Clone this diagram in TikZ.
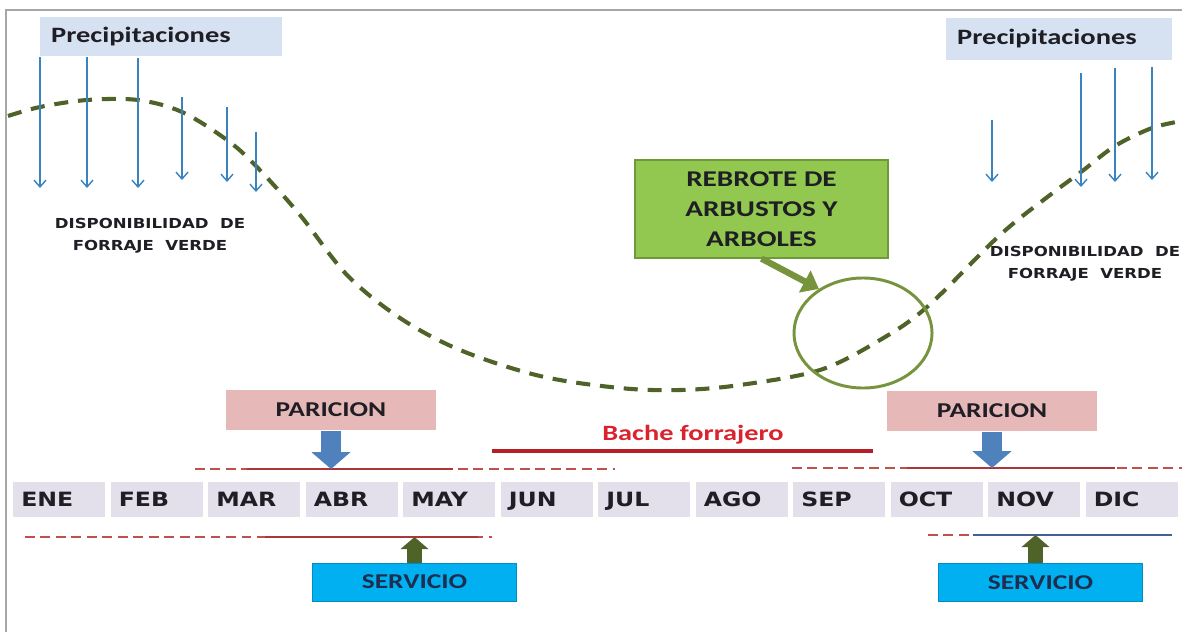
\documentclass[tikz,border=0pt]{standalone}
\usepackage{fontspec}
\setmainfont{Carlito}[FakeStretch=1.3]
\newfontfamily\tahfont{DejaVu Sans}[FakeStretch=1.2]
\usepackage{tikz}
\usetikzlibrary{arrows.meta,positioning,shapes.geometric,calc}
\definecolor{precbg}{HTML}{D6E1F1}
\definecolor{txtdark}{HTML}{1E1E24}
\definecolor{rainblue}{HTML}{3A83C1}
\definecolor{curvegreen}{HTML}{4F6228}
\definecolor{boxgreen}{HTML}{92C850}
\definecolor{boxgreenline}{HTML}{6E9A3A}
\definecolor{olive}{HTML}{77933C}
\definecolor{paribg}{HTML}{E6B9B8}
\definecolor{parblue}{HTML}{4F81BD}
\definecolor{monthbg}{HTML}{E3E0EC}
\definecolor{bachered}{HTML}{D9232E}
\definecolor{dashred}{HTML}{C0504D}
\definecolor{spanred}{HTML}{A8383A}
\definecolor{spanblue}{HTML}{44609A}
\definecolor{servbg}{HTML}{00B0F0}
\definecolor{servtxt}{HTML}{1F2D4F}
\definecolor{framegray}{HTML}{A6A6A6}
\tikzset{
  precbox/.style={fill=precbg, text width=#1, inner xsep=0.28cm, align=left,
                  minimum height=0.95cm, text=txtdark,
                  font=\bfseries\fontsize{15.6}{17}\selectfont},
  rain/.style={draw=rainblue, line width=1pt,
               -{Straight Barb[length=1.7mm,width=3mm]}},
  forage/.style={draw=curvegreen, line width=2.9pt, dash pattern=on 10pt off 7pt},
  dispo/.style={align=center, text=txtdark,
                font=\tahfont\bfseries\fontsize{9.8}{15.6}\selectfont},
  rebrote/.style={fill=boxgreen, draw=boxgreenline, line width=0.8pt,
                  minimum width=6.325cm, minimum height=2.45cm, align=center,
                  text=txtdark, font=\bfseries\fontsize{16}{21.3}\selectfont},
  regrow/.style={ellipse, draw=olive, line width=2.1pt, minimum width=3.45cm,
                 minimum height=2.75cm},
  pointer/.style={draw=olive, line width=0.16cm,
                  -{Triangle[width=0.6cm,length=0.4cm]}},
  paribox/.style={fill=paribg, minimum width=5.25cm, minimum height=1.02cm,
                  text=txtdark, font=\bfseries\fontsize{15}{17}\selectfont},
  blockdown/.style={draw=parblue, line width=0.5cm,
                    -{Triangle[width=0.95cm,length=0.42cm]}},
  blockup/.style={draw=curvegreen, line width=0.375cm,
                  -{Triangle[width=0.68cm,length=0.3cm]}},
  servbox/.style={fill=servbg, draw=servbg!80!black, line width=0.3pt,
                  minimum width=5.1cm, minimum height=0.94cm, text=servtxt,
                  font=\bfseries\fontsize{15}{17}\selectfont},
  month/.style={fill=monthbg, anchor=west, minimum height=0.875cm,
                text height=10.4pt, text depth=0pt,
                text width=1.9cm, inner xsep=0.2cm, align=left, text=txtdark,
                font=\tahfont\bfseries\fontsize{14}{16}\selectfont},
  timeline/.style={draw=dashred, line width=1pt, dash pattern=on 7pt off 4pt},
  span/.style={draw=#1, line width=1.1pt},
  gap/.style={draw=bachered!85!black, line width=2.2pt},
}
\begin{document}
\begin{tikzpicture}[x=0.025cm, y=-0.025cm]
\useasboundingbox (0,0) rectangle (1182,632);
\fill[white] (0,0) rectangle (1182,632);
\draw[framegray, line width=1pt] (1182,10) -- (6,10) -- (6,632);

\node[precbox=5.49cm] (precL) at (161,36.5) {Precipitaciones};
\node[precbox=5.09cm, minimum height=1.05cm] (precR) at (1059,39) {Precipitaciones};

\draw[forage] plot[smooth, tension=0.55] coordinates {
  (8,116) (40,107) (87,100) (138,100) (182,112) (227,140) (256,166)
  (300,215) (347,275) (400,318) (460,350) (540,376) (620,388) (680,390)
  (740,385) (820,370) (880,340) (927,307) (1000,235) (1050,195)
  (1081,172) (1115,146) (1152,128) (1182,121)};

\foreach \x/\a/\b in {40/57/188, 87/57/188, 138/58/188, 182/97/180,
                      227/107/182, 256/132/192, 992/120/182, 1081/73/187,
                      1115/68/182, 1152/67/180}
  \draw[rain] (\x,\a) -- (\x,\b);

\node[dispo] (dispoL) at (150,236) {DISPONIBILIDAD\ \ DE\\FORRAJE\ \ VERDE};
\node[dispo] (dispoR) at (1085,264) {DISPONIBILIDAD\ \ DE\\FORRAJE\ \ VERDE};

\node[rebrote] (rebrote) at (761.5,209) {REBROTE DE\\ARBUSTOS Y\\ARBOLES};
\node[regrow] (circ) at (863,333) {};
\draw[pointer] (rebrote.south) -- (circ.135);

\node[paribox] (pariL) at (331,410) {PARICION};
\node[paribox] (pariR) at (992,411) {PARICION};

\node[text=bachered, font=\bfseries\fontsize{15.5}{17}\selectfont]
  (bache) at (693,435) {Bache forrajero};
\coordinate (bacheA) at (492,451);
\coordinate (bacheB) at (873,451);
\draw[gap] (bacheA) -- (bacheB);

\coordinate (topLa) at (195,469);  \coordinate (topLb) at (615,469);
\coordinate (topLs) at (247,469);  \coordinate (topLt) at (453,469);
\coordinate (topRa) at (792,468);  \coordinate (topRb) at (1182,468);
\coordinate (topRs) at (907,468);  \coordinate (topRt) at (1115,468);
\coordinate (botLa) at (25,537);   \coordinate (botLb) at (492,537);
\coordinate (botLs) at (265,537);  \coordinate (botLt) at (478,537);
\coordinate (botRa) at (928,535);  \coordinate (botRb) at (1172,535);
\coordinate (botRs) at (973,535);  \coordinate (botRt) at (1172,535);
\draw[timeline] (topLa) -- (topLb);
\draw[timeline] (topRa) -- (topRb);
\draw[timeline] (botLa) -- (botLb);
\draw[timeline] (botRa) -- (botRb);
\draw[span=spanred] (topLs) -- (topLt);
\draw[span=spanred] (topRs) -- (topRt);
\draw[span=spanred] (botLs) -- (botLt);
\draw[span=spanblue] (botRs) -- (botRt);

\draw[blockdown] (pariL.south) -- (pariL.south |- topLs);
\draw[blockdown] (pariR.south) -- (pariR.south |- topRs);

\foreach \m [count=\i from 0] in {ENE,FEB,MAR,ABR,MAY,JUN,JUL,AGO,SEP,OCT,NOV,DIC}
  \node[month] (m\i) at ({13+97.5*\i},499.5) {\m};

\node[servbox] (servL) at (414.5,582) {SERVICIO};
\node[servbox] (servR) at (1040.5,582.5) {SERVICIO};
\coordinate (servLtop) at (servL.north);
\coordinate (servRtop) at ($(servR.north)+(-5,0)$);
\draw[blockup] (servLtop) -- (servLtop |- botLs);
\draw[blockup] (servRtop) -- (servRtop |- botRs);

\end{tikzpicture}
\end{document}
